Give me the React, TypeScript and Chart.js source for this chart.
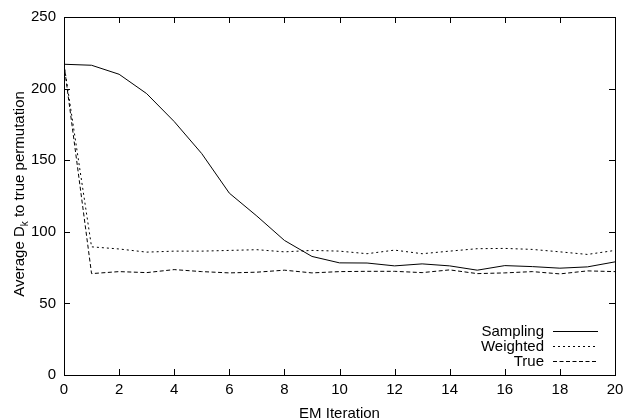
import React, { useEffect, useRef } from "react";
import { Chart, registerables } from "chart.js";

Chart.register(...registerables);

const iterations = [0, 1, 2, 3, 4, 5, 6, 7, 8, 9, 10, 11, 12, 13, 14, 15, 16, 17, 18, 19, 20];
const sampling = [217, 216.3, 210, 196.5, 177, 154.6, 127, 111, 94, 82.8, 78.3, 78.2, 76.2, 77.6, 76.2, 73.2, 76.4, 75.7, 74.6, 75.5, 79];
const weighted = [217, 89.5, 88, 85.8, 86.5, 86.5, 87, 87.5, 86, 87, 86.5, 84.7, 87.2, 84.7, 86.5, 88.2, 88.4, 87.7, 86, 84.2, 87];
const truePerm = [217, 70.8, 72.2, 71.5, 73.6, 72.2, 71.3, 71.8, 73.2, 71.3, 72.2, 72.4, 72.4, 71.5, 73.4, 70.8, 71.3, 72.2, 70.6, 72.7, 72.2];
const seriesNames = ["Sampling", "Weighted", "True"];
const seriesDashes: number[][] = [[], [2, 3], [4, 2.5]];
const xTicks = [0, 2, 4, 6, 8, 10, 12, 14, 16, 18, 20];
const yTicks = [0, 50, 100, 150, 200, 250];

const FONT = "'Liberation Sans', Arial, Helvetica, sans-serif";
const FS = 15;

const framePlugin = {
  id: "frame",
  afterDatasetsDraw(chart: any) {
    const { ctx, chartArea: a, scales } = chart;
    ctx.save();
    ctx.strokeStyle = "#000";
    ctx.lineWidth = 1;
    ctx.setLineDash([]);
    ctx.strokeRect(Math.round(a.left) + 0.5, Math.round(a.top) + 0.5, Math.round(a.right - a.left), Math.round(a.bottom - a.top));
    const tl = 6;
    ctx.beginPath();
    for (const v of xTicks) {
      const x = Math.round(scales.x.getPixelForValue(v)) + 0.5;
      ctx.moveTo(x, a.bottom);
      ctx.lineTo(x, a.bottom - tl);
      ctx.moveTo(x, a.top);
      ctx.lineTo(x, a.top + tl);
    }
    for (const v of yTicks) {
      const y = Math.round(scales.y.getPixelForValue(v)) + 0.5;
      ctx.moveTo(a.left, y);
      ctx.lineTo(a.left + tl, y);
      ctx.moveTo(a.right, y);
      ctx.lineTo(a.right - tl, y);
    }
    ctx.stroke();

    // legend
    ctx.font = `${FS}px ${FONT}`;
    ctx.fillStyle = "#000";
    ctx.textAlign = "right";
    ctx.textBaseline = "alphabetic";
    const rows = [331, 346, 361];
    seriesNames.forEach((name, i) => {
      const y = rows[i];
      ctx.fillText(name, 544, y + 5);
      ctx.beginPath();
      ctx.setLineDash(seriesDashes[i]);
      ctx.moveTo(553, y + 0.5);
      ctx.lineTo(598, y + 0.5);
      ctx.stroke();
    });
    ctx.setLineDash([]);

    // axis titles
    ctx.textAlign = "center";
    ctx.textBaseline = "alphabetic";
    ctx.fillText("EM Iteration", (a.left + a.right) / 2, 418);

    ctx.translate(23.5, 194);
    ctx.rotate(-Math.PI / 2);
    const p1 = "Average D";
    const sub = "k";
    const p2 = " to true permutation";
    ctx.font = `${FS}px ${FONT}`;
    const w1 = ctx.measureText(p1).width;
    const w3 = ctx.measureText(p2).width;
    ctx.font = `10px ${FONT}`;
    const w2 = ctx.measureText(sub).width;
    const total = w1 + w2 + w3;
    let x = -total / 2;
    ctx.textAlign = "left";
    ctx.font = `${FS}px ${FONT}`;
    ctx.fillText(p1, x, 0);
    x += w1;
    ctx.font = `10px ${FONT}`;
    ctx.fillText(sub, x, 4);
    x += w2;
    ctx.font = `${FS}px ${FONT}`;
    ctx.fillText(p2, x, 0);
    ctx.restore();
  },
};

export default function App() {
  const ref = useRef<HTMLCanvasElement | null>(null);
  useEffect(() => {
    if (!ref.current) return;
    const mk = (vals: number[]) => iterations.map((x, i) => ({ x, y: vals[i] }));
    const chart = new Chart(ref.current, {
      type: "line",
      data: {
        datasets: [sampling, weighted, truePerm].map((vals, i) => ({
          label: seriesNames[i],
          data: mk(vals),
          borderColor: "#000",
          borderWidth: 1,
          borderDash: seriesDashes[i],
          pointRadius: 0,
          fill: false,
          tension: 0,
        })),
      },
      options: {
        responsive: false,
        animation: false,
        devicePixelRatio: 1,
        layout: { padding: { top: 14, right: 16, left: 0, bottom: 0 } },
        plugins: { legend: { display: false }, tooltip: { enabled: false } },
        scales: {
          x: {
            type: "linear",
            min: 0,
            max: 20,
            grid: { display: false, drawTicks: false },
            border: { display: false },
            afterBuildTicks: (s: any) => {
              s.ticks = xTicks.map((v) => ({ value: v }));
            },
            afterFit: (s: any) => {
              s.height = 45;
            },
            ticks: { color: "#000", padding: 6, maxRotation: 0, font: { family: FONT, size: FS } },
          },
          y: {
            type: "linear",
            min: 0,
            max: 250,
            grid: { display: false, drawTicks: false },
            border: { display: false },
            afterBuildTicks: (s: any) => {
              s.ticks = yTicks.map((v) => ({ value: v }));
            },
            afterFit: (s: any) => {
              s.width = 64;
            },
            ticks: { color: "#000", padding: 8, font: { family: FONT, size: FS } },
          },
        },
      },
      plugins: [framePlugin],
    });
    return () => chart.destroy();
  }, []);
  return (
    <div style={{ position: "absolute", left: 0, top: 0, width: 631, height: 420, background: "#fff" }}>
      <canvas ref={ref} width={631} height={420} />
    </div>
  );
}
